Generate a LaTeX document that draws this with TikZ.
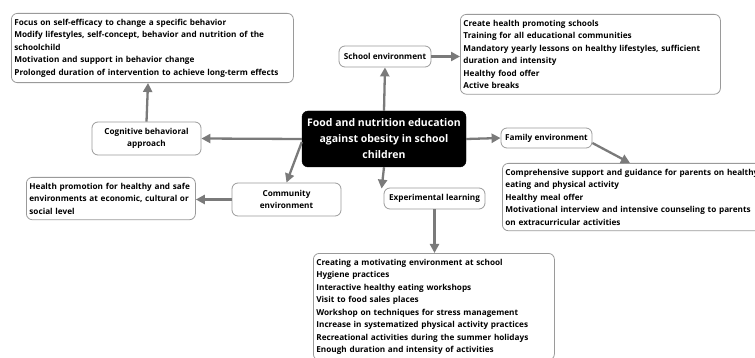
\documentclass[tikz,border=0pt]{standalone}
\usepackage{fontspec}
\setmainfont{Open Sans}
\usetikzlibrary{arrows.meta,calc}
\definecolor{linegray}{HTML}{7A7A7A}
\definecolor{boxgray}{HTML}{9A9A9A}
\begin{document}
\begin{tikzpicture}[x=1pt,y=-1pt,
  txtbox/.style={draw=boxgray,line width=0.8pt,rounded corners=6pt,anchor=north west,
    align=left,inner xsep=3pt,inner ysep=5.5pt,font=\bfseries\fontsize{8.2}{12.5}\selectfont},
  small/.style={draw=boxgray,line width=0.8pt,rounded corners=6pt,align=center,inner sep=1pt,
    font=\bfseries\fontsize{8.2}{12.5}\selectfont},
  conn/.style={draw=linegray,line width=2.3pt,-{Triangle[length=9pt,width=9pt]}}]
\useasboundingbox (0,0) rectangle (755,358);
% center
\node[fill=black,draw=black,rounded corners=6pt,minimum width=164pt,minimum height=56pt,
  text=white,align=center,inner sep=1pt,font=\bfseries\fontsize{10.5}{16}\selectfont]
  (c) at (384,139) {Food and nutrition education\\against obesity in school\\children};
% small nodes
\node[small,minimum width=92pt,minimum height=21pt] (school) at (385,56.5) {School environment};
\node[small,minimum width=109pt,minimum height=33pt] (cog) at (146.5,138.5) {Cognitive behavioral\\approach};
\node[small,minimum width=91pt,minimum height=20pt] (fam) at (546.5,138) {Family environment};
\node[small,minimum width=109pt,minimum height=33pt] (comm) at (286.5,199.5) {Community\\environment};
\node[small,minimum width=101pt,minimum height=21pt] (exp) at (434.5,198.5) {Experimental learning};
% text boxes
\node[txtbox,text width=276pt] (tl) at (11,13) {Focus on self-efficacy to change a specific behavior\\
Modify lifestyles, self-concept, behavior and nutrition of the\\
schoolchild\\
Motivation and support in behavior change\\
Prolonged duration of intervention to achieve long-term effects};
\node[txtbox,text width=254pt] (sb) at (460,14) {Create health promoting schools\\
Training for all educational communities\\
Mandatory yearly lessons on healthy lifestyles, sufficient\\
duration and intensity\\
Healthy food offer\\
Active breaks};
\node[txtbox,text width=163pt] (hb) at (26,177) {Health promotion for healthy and safe\\
environments at economic, cultural or\\
social level};
\node[txtbox,text width=290pt] (fb) at (502,163) {Comprehensive support and guidance for parents on healthy\\
eating and physical activity\\
Healthy meal offer\\
Motivational interview and intensive counseling to parents\\
on extracurricular activities};
\node[txtbox,text width=235pt] (eb) at (313,253) {Creating a motivating environment at school\\
Hygiene practices\\
Interactive healthy eating workshops\\
Visit to food sales places\\
Workshop on techniques for stress management\\
Increase in systematized physical activity practices\\
Recreational activities during the summer holidays\\
Enough duration and intensity of activities};
% connectors
\draw[conn] (c.north) -- (school.south);
\draw[conn] (school.east) -- (sb.west |- school.east);
\draw[conn] (c.west) -- (cog.east);
\draw[conn] (cog.north) -- ($(tl.south west)+(137,0)$);
\draw[conn] ($(c.west)+(0,3)$) -- (comm.north);
\draw[conn] (comm.west) -- (hb.east |- comm.west);
\draw[conn] (c.south) -- ($(exp.north west)+(-2,1)$);
\draw[conn] (exp.south) -- (eb.north -| exp.south);
\draw[conn] (c.east) -- (fam.west);
\draw[conn] ($(fam.east)+(0,5)$) -- ($(fb.north west)+(128,0)$);
\end{tikzpicture}
\end{document}
